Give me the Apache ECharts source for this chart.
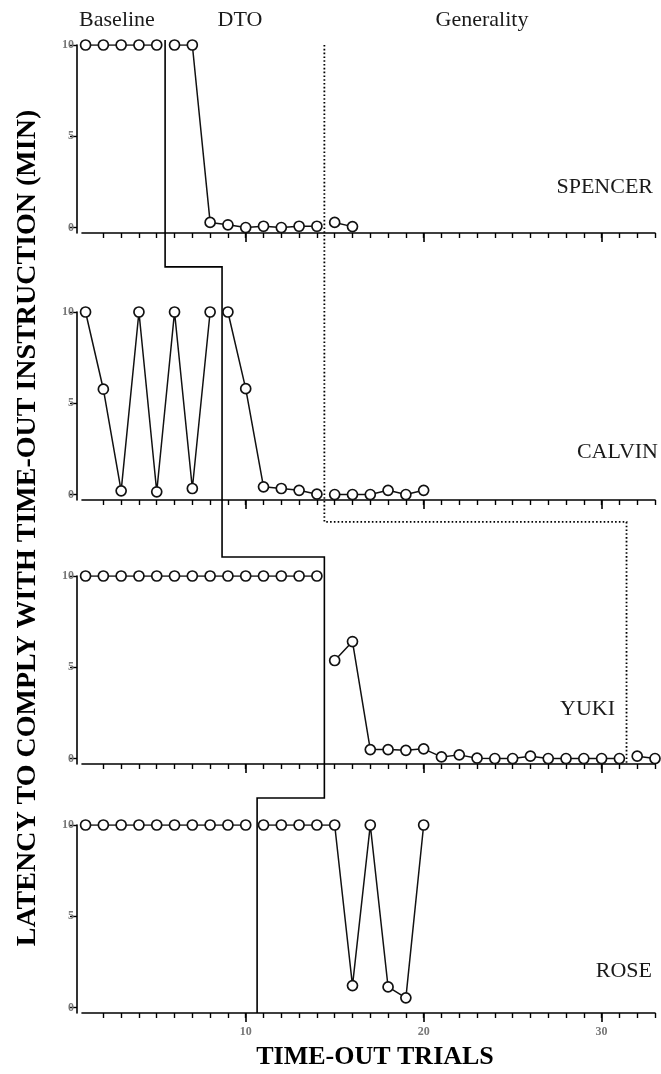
<!DOCTYPE html>
<html><head><meta charset="utf-8">
<script src="https://cdn.jsdelivr.net/npm/echarts@6/dist/echarts.min.js"></script>
<style>html,body{margin:0;padding:0;background:#fff}#c{width:661px;height:1074px}</style>
</head><body><div id="c"></div>
<script>
// ---- data ----
const participants = ['SPENCER', 'CALVIN', 'YUKI', 'ROSE'];
const spencer = [10, 10, 10, 10, 10, 10, 10, 0.28, 0.15, 0, 0.07, 0, 0.07, 0.07, 0.28, 0.05];
const calvin = [10, 5.77, 0.2, 10, 0.15, 10, 0.33, 10, 10, 5.8, 0.42, 0.33, 0.23, 0.02, 0, 0, 0, 0.23, 0, 0.23];
const yuki = [10, 10, 10, 10, 10, 10, 10, 10, 10, 10, 10, 10, 10, 10, 5.37, 6.41, 0.49, 0.49, 0.45, 0.53, 0.09, 0.2, 0.02, 0, 0, 0.13, 0, 0, 0, 0, 0, 0.13, 0];
const rose = [10, 10, 10, 10, 10, 10, 10, 10, 10, 10, 10, 10, 10, 10, 10, 1.2, 10, 1.13, 0.53, 10];
const dtoStart = [5.47, 8.67, 14.42, 10.64];          // trial position of the DTO phase line
const generalityStart = [14.42, 14.42, 31.4, null];  // trial position of the generality line
const phaseLabels = ['Baseline', 'DTO', 'Generality'];
const yTicks = [0, 5, 10];
const xMinorTicks = [2, 3, 4, 5, 6, 7, 8, 9, 10, 11, 12, 13, 14, 15, 16, 17, 18, 19, 20, 21, 22, 23, 24, 25, 26, 27, 28, 29, 30, 31, 32, 33];
const xMajorTicks = [10, 20, 30];
const allData = [spencer, calvin, yuki, rose];

// ---- layout / style ----
const FONT = 'Liberation Serif';
const gridTops = [45, 312, 576, 825];
const gridH = 188;
const X_MIN = 0.8, X_MAX = 33, Y_MIN = -0.3, Y_MAX = 10;
const stepY = [12.47, 11.04, 11.48];

const chart = echarts.init(document.getElementById('c'));

const grids = gridTops.map(t => ({ left: 82, right: 6, top: t, height: gridH }));
const xAxes = [];
const yAxes = [];
const tickLabel = { fontFamily: FONT, fontWeight: 'bold', fontSize: 12, color: '#777' };
gridTops.forEach((t, g) => {
  xAxes.push({
    type: 'value', gridIndex: g, min: X_MIN, max: X_MAX, position: 'bottom',
    axisLine: { show: true, onZero: false, lineStyle: { color: '#000', width: 1.6 } },
    axisTick: { show: true, customValues: xMinorTicks, length: 5, lineStyle: { color: '#000', width: 1.4 } },
    axisLabel: { show: false }, splitLine: { show: false }
  });
  xAxes.push({
    type: 'value', gridIndex: g, min: X_MIN, max: X_MAX, position: 'bottom',
    axisLine: { show: false, onZero: false },
    axisTick: { show: true, customValues: xMajorTicks, length: 9, lineStyle: { color: '#000', width: 1.6 } },
    axisLabel: g === 3 ? Object.assign({ show: true, customValues: xMajorTicks, margin: 13 }, tickLabel) : { show: false },
    splitLine: { show: false }
  });
  yAxes.push({
    type: 'value', gridIndex: g, min: Y_MIN, max: Y_MAX, offset: 5,
    axisLine: { show: true, lineStyle: { color: '#000', width: 1.6 } },
    axisTick: { show: true, customValues: yTicks, length: 7, lineStyle: { color: '#000', width: 1.4 } },
    axisLabel: Object.assign({ show: true, customValues: yTicks, margin: 3 }, tickLabel),
    splitLine: { show: false }
  });
});

function segments(vals, dto, gen) {
  const s = [[], [], []];
  vals.forEach((v, i) => {
    const t = i + 1;
    const k = t < dto ? 0 : (gen != null && t > gen ? 2 : 1);
    s[k].push([t, v]);
  });
  return s.filter(a => a.length);
}

const series = [];
allData.forEach((vals, g) => {
  segments(vals, dtoStart[g], generalityStart[g]).forEach(seg => {
    series.push({
      type: 'line', xAxisIndex: 2 * g, yAxisIndex: g, data: seg,
      symbol: 'circle', symbolSize: 10, showAllSymbol: true, z: 5,
      itemStyle: { color: '#fff', borderColor: '#111', borderWidth: 1.7 },
      lineStyle: { color: '#111', width: 1.5 }
    });
  });
});

chart.setOption({
  animation: false,
  backgroundColor: '#fff',
  grid: grids, xAxis: xAxes, yAxis: yAxes, series
});

const P = (g, x, y) => chart.convertToPixel({ xAxisIndex: 2 * g, yAxisIndex: g }, [x, y]);
const solid = [
  P(0, dtoStart[0], 10.27), P(1, dtoStart[0], stepY[0]), P(1, dtoStart[1], stepY[0]),
  P(2, dtoStart[1], stepY[1]), P(2, dtoStart[2], stepY[1]), P(3, dtoStart[2], stepY[2]),
  P(3, dtoStart[3], stepY[2]), P(3, dtoStart[3], Y_MIN)
];
const dotted = [
  P(0, generalityStart[0], 10), P(1, generalityStart[1], -1.5),
  P(1, generalityStart[2], -1.5), P(2, generalityStart[2], Y_MIN)
];

const txt = (text, x, y, opts) => Object.assign({
  type: 'text', x, y, z: 10,
  style: Object.assign({ text, fontFamily: FONT, fontSize: 22, fill: '#1a1a1a', align: 'center', verticalAlign: 'middle' }, opts || {})
});

const nameRight = [653, 658, 615, 652];
const nameY = [187, 452, 709, 971];

chart.setOption({
  graphic: [
    { type: 'polyline', z: 4, shape: { points: solid }, style: { stroke: '#000', lineWidth: 1.6, fill: null } },
    { type: 'polyline', z: 4, shape: { points: dotted }, style: { stroke: '#000', lineWidth: 1.8, lineDash: [1.6, 2.2], fill: null } },
    txt(phaseLabels[0], 117, 20),
    txt(phaseLabels[1], 240, 20),
    txt(phaseLabels[2], 482, 20),
    ...participants.map((p, i) => txt(p, nameRight[i], nameY[i], { align: 'right' })),
    { type: 'text', x: 28, y: 528, rotation: Math.PI / 2, z: 10,
      style: { text: 'LATENCY TO COMPLY WITH TIME-OUT INSTRUCTION (MIN)', fontFamily: FONT, fontWeight: 'bold', fontSize: 28, fill: '#000', align: 'center', verticalAlign: 'middle' } },
    { type: 'text', x: 375, y: 1057, z: 10,
      style: { text: 'TIME-OUT TRIALS', fontFamily: FONT, fontWeight: 'bold', fontSize: 26, fill: '#000', align: 'center', verticalAlign: 'middle' } }
  ]
});
</script></body></html>
